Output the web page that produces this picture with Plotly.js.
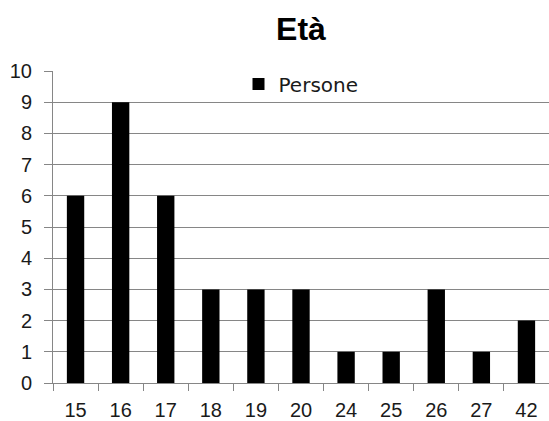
<!DOCTYPE html>
<html>
<head>
<meta charset="utf-8">
<script src="https://cdn.plot.ly/plotly-3.0.1.min.js"></script>
<style>
html,body{margin:0;padding:0;background:#fff;}
#chart{width:549px;height:421px;}
</style>
</head>
<body>
<div id="chart"></div>
<script>
var categories = ["15","16","17","18","19","20","24","25","26","27","42"];
var persone = [6,9,6,3,3,3,1,1,3,1,2];
var yTicks = [0,1,2,3,4,5,6,7,8,9,10];
var seriesName = "Persone";
var chartTitle = "Età";

var trace = {
  type: "bar",
  x: categories,
  y: persone,
  name: seriesName,
  width: 0.385,
  marker: {color: "#000000", line: {width: 0}},
  showlegend: true
};

var layout = {
  width: 549,
  height: 421,
  margin: {l: 53, r: 0, t: 71, b: 38, pad: 0},
  paper_bgcolor: "#ffffff",
  plot_bgcolor: "#ffffff",
  font: {family: "Liberation Sans, Arial, sans-serif", size: 20, color: "#1a1a1a"},
  title: {
    text: "<b>" + chartTitle + "</b>",
    font: {family: "Liberation Sans, Arial, sans-serif", size: 32, color: "#000000"},
    x: 0.5, xanchor: "center", xref: "paper",
    y: 1 - 29/421, yanchor: "middle", yref: "container"
  },
  showlegend: true,
  legend: {
    x: 0.5, xanchor: "center",
    y: 0.958, yanchor: "middle",
    bgcolor: "rgba(0,0,0,0)",
    borderwidth: 0,
    itemwidth: 30,
    font: {family: "DejaVu Sans, sans-serif", size: 20, color: "#1a1a1a"}
  },
  xaxis: {
    type: "category",
    range: [-0.5, 10.5],
    showgrid: false,
    showline: true,
    linecolor: "#868686",
    linewidth: 1,
    ticks: "outside",
    tickson: "boundaries",
    ticklen: 7,
    tickcolor: "#868686",
    tickwidth: 1,
    ticklabelstandoff: 9,
    tickfont: {family: "Liberation Sans, Arial, sans-serif", size: 20, color: "#1a1a1a"},
    zeroline: false,
    fixedrange: true
  },
  yaxis: {
    range: [0, 10],
    tickvals: yTicks,
    ticktext: yTicks.map(String),
    showgrid: true,
    gridcolor: "#868686",
    gridwidth: 1,
    showline: true,
    linecolor: "#868686",
    linewidth: 1,
    ticks: "outside",
    ticklen: 8,
    tickcolor: "#868686",
    tickwidth: 1,
    ticklabelstandoff: 8,
    tickfont: {family: "Liberation Sans, Arial, sans-serif", size: 20, color: "#1a1a1a"},
    zeroline: false,
    fixedrange: true
  },
  bargap: 0.6
};

Plotly.newPlot("chart", [trace], layout, {displayModeBar: false, staticPlot: true});
</script>
</body>
</html>
